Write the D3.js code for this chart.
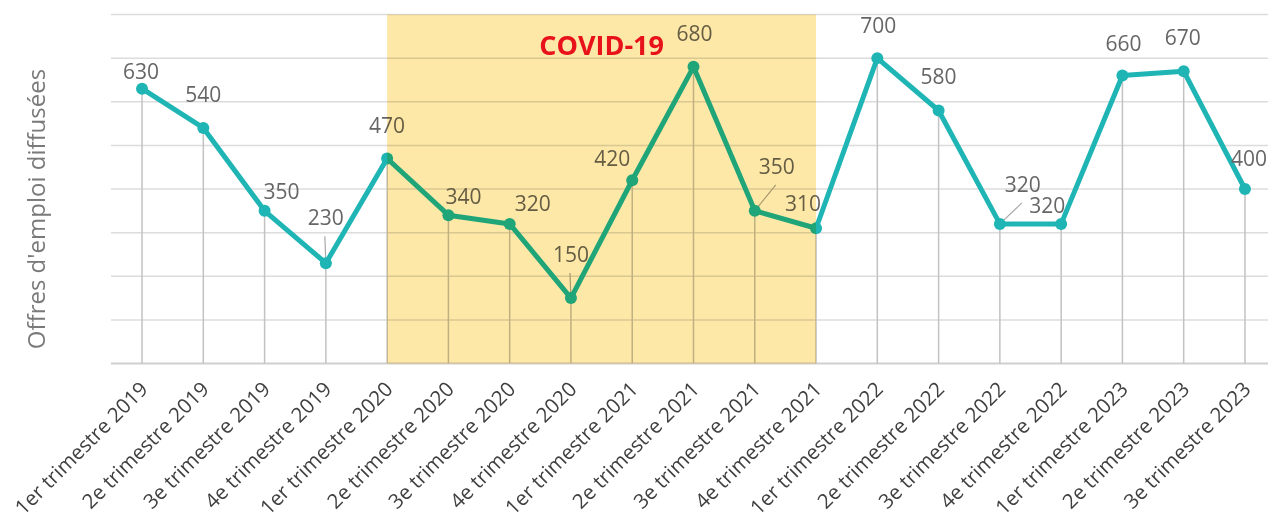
<!DOCTYPE html>
<html>
<head>
<meta charset="utf-8">
<script src="https://cdn.jsdelivr.net/npm/d3@7"></script>
<style>
  html, body { margin: 0; padding: 0; background: #fff; }
  svg { display: block; font-family: "Open Sans", sans-serif; }
</style>
</head>
<body>
<svg id="chart"></svg>
<script>
// quarters shown on the x axis
var quarters = [
  "1er trimestre 2019", "2e trimestre 2019", "3e trimestre 2019", "4e trimestre 2019",
  "1er trimestre 2020", "2e trimestre 2020", "3e trimestre 2020", "4e trimestre 2020",
  "1er trimestre 2021", "2e trimestre 2021", "3e trimestre 2021", "4e trimestre 2021",
  "1er trimestre 2022", "2e trimestre 2022", "3e trimestre 2022", "4e trimestre 2022",
  "1er trimestre 2023", "2e trimestre 2023", "3e trimestre 2023"
];
// job offers published per quarter
var offers = [630, 540, 350, 230, 470, 340, 320, 150, 420, 680, 350, 310, 700, 580, 320, 320, 660, 670, 400];
var yTicks = [0, 100, 200, 300, 400, 500, 600, 700, 800];
var covidStart = "1er trimestre 2020";
var covidEnd = "4e trimestre 2021";
var covidLabel = "COVID-19";
var yTitle = "Offres d'emploi diffusées";

// label nudges (px) so labels sit like in the original: [dx, dy, leader]
var labelNudge = [
  [-1, -10, 0], [0, -26, 0], [17, -12, 0], [0, -38, 1], [0, -25, 0],
  [15, -11, 0], [23, -13, 0], [0, -36, 1], [-20, -14, 0], [1, -26, 0],
  [22, -37, 1], [-13, -17, 0], [1, -25, 0], [0, -26, 0], [23, -32, 1],
  [-14, -11, 0], [1, -25, 0], [-1, -26, 0], [4, -23, 0]
];

var width = 1268, height = 522;
var svg = d3.select("#chart").attr("width", width).attr("height", height);

var x = d3.scaleBand().domain(quarters).range([111.4, 1275.6]).padding(0);
var cx = function(q) { return x(q) + x.bandwidth() / 2; };
var y = d3.scaleLinear().domain([0, 800]).range([363.5, 14.5]);

var items = quarters.map(function(q, i) { return { q: q, v: offers[i], n: labelNudge[i] }; });

// horizontal gridlines
svg.append("g").selectAll("line")
  .data(yTicks).enter().append("line")
  .attr("x1", 111).attr("x2", width)
  .attr("y1", function(d) { return y(d); })
  .attr("y2", function(d) { return y(d); })
  .attr("stroke", function(d) { return d === 0 ? "#cfcfcf" : "#dcdcdc"; })
  .attr("stroke-width", function(d) { return d === 0 ? 2 : 1.5; });

// drop lines
svg.append("g").selectAll("line")
  .data(items).enter().append("line")
  .attr("x1", function(d) { return cx(d.q); })
  .attr("x2", function(d) { return cx(d.q); })
  .attr("y1", function(d) { return y(d.v); })
  .attr("y2", y(0))
  .attr("stroke", "#c2c2c2")
  .attr("stroke-width", 1.5);

// leader lines for labels pushed away
svg.append("g").selectAll("line")
  .data(items.filter(function(d) { return d.n[2]; })).enter().append("line")
  .attr("x1", function(d) { return cx(d.q) + d.n[0] - 1; })
  .attr("y1", function(d) { return y(d.v) + d.n[1] + 11; })
  .attr("x2", function(d) { return cx(d.q); })
  .attr("y2", function(d) { return y(d.v); })
  .attr("stroke", "#a8a8a8")
  .attr("stroke-width", 1.2);

// line + markers
var teal = "#1fb5b5";
var line = d3.line().x(function(d) { return cx(d.q); }).y(function(d) { return y(d.v); });
svg.append("path").datum(items)
  .attr("d", line)
  .attr("fill", "none")
  .attr("stroke", teal)
  .attr("stroke-width", 5)
  .attr("stroke-linejoin", "round");

svg.append("g").selectAll("circle")
  .data(items).enter().append("circle")
  .attr("cx", function(d) { return cx(d.q); })
  .attr("cy", function(d) { return y(d.v); })
  .attr("r", 6)
  .attr("fill", teal);

// value labels
svg.append("g").selectAll("text")
  .data(items).enter().append("text")
  .attr("x", function(d) { return cx(d.q) + d.n[0]; })
  .attr("y", function(d) { return y(d.v) + d.n[1]; })
  .attr("text-anchor", "middle")
  .attr("font-size", 21)
  .attr("fill", "#666666")
  .text(function(d) { return d.v; });

// x axis labels
var xAxis = d3.axisBottom(x).tickSize(0);
var gx = svg.append("g").attr("transform", "translate(0," + y(0) + ")").call(xAxis);
gx.select(".domain").remove();
gx.selectAll("text")
  .attr("font-family", "Open Sans")
  .attr("font-size", 20.5)
  .attr("fill", "#404040")
  .attr("text-anchor", "end")
  .attr("x", 0).attr("y", 0).attr("dy", 0)
  .attr("transform", "translate(7,27) rotate(-45)");

// y title
svg.append("text")
  .attr("transform", "translate(45,209) rotate(-90)")
  .attr("text-anchor", "middle")
  .attr("font-size", 24)
  .attr("fill", "#7a7a7a")
  .text(yTitle);

// COVID band (multiplied over the chart)
var bx0 = cx(covidStart), bx1 = cx(covidEnd);
svg.append("rect")
  .attr("x", bx0).attr("y", y(800))
  .attr("width", bx1 - bx0).attr("height", y(0) - y(800))
  .attr("fill", "#fde8a8")
  .style("mix-blend-mode", "multiply");

svg.append("text")
  .attr("x", (bx0 + bx1) / 2).attr("y", 55)
  .attr("text-anchor", "middle")
  .attr("font-size", 27)
  .attr("font-weight", "bold")
  .attr("fill", "#e8121b")
  .text(covidLabel);
</script>
</body>
</html>
